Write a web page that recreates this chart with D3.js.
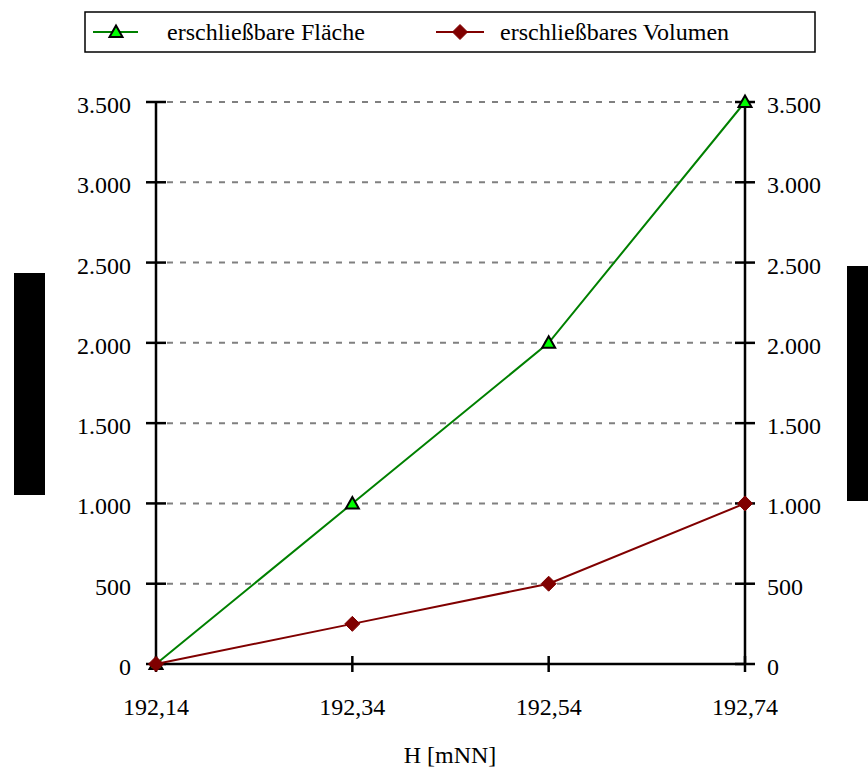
<!DOCTYPE html>
<html>
<head>
<meta charset="utf-8">
<script src="https://cdn.jsdelivr.net/npm/d3@7"></script>
<style>
  html, body { margin: 0; padding: 0; background: #fff; }
</style>
</head>
<body>
<svg id="chart" width="868" height="769"></svg>
<script>
// Data
const categories = ["192,14", "192,34", "192,54", "192,74"];
const flaeche = [0, 1000, 2000, 3500];
const volumen = [0, 250, 500, 1000];
const yTicks = [0, 500, 1000, 1500, 2000, 2500, 3000, 3500];
const seriesNames = ["erschließbare Fläche", "erschließbares Volumen"];
const xTitle = "H [mNN]";

(function () {
const FS = 24;
const svg = d3.select("#chart");
const mLeft = 156, mRight = 745, mTop = 102, mBottom = 664;

const x = d3.scalePoint().domain(categories).range([mLeft, mRight]).padding(0);
const y = d3.scaleLinear().domain([0, 3500]).range([mBottom, mTop]);

const fmt = v => d3.format(",")(v).replace(/,/g, ".");
const styleText = sel => sel.style("font-family", '"Liberation Serif"')
  .attr("font-size", FS).attr("fill", "#000");

// Dashed gridlines
svg.append("g").selectAll("line").data(yTicks.filter(d => d > 0)).join("line")
  .attr("x1", mLeft + 11).attr("x2", mRight - 10)
  .attr("y1", d => y(d)).attr("y2", d => y(d))
  .attr("stroke", "#808080").attr("stroke-width", 2)
  .attr("stroke-dasharray", "6,7");

// Axis lines
const axisG = svg.append("g").attr("stroke", "#000").attr("stroke-width", 2.5);
axisG.append("line").attr("x1", mLeft).attr("x2", mLeft).attr("y1", mTop).attr("y2", mBottom);
axisG.append("line").attr("x1", mRight).attr("x2", mRight).attr("y1", mTop).attr("y2", mBottom);
axisG.append("line").attr("x1", mLeft).attr("x2", mRight).attr("y1", mBottom).attr("y2", mBottom);

// Y ticks crossing both vertical axes
[mLeft, mRight].forEach(ax => {
  axisG.append("g").selectAll("line").data(yTicks).join("line")
    .attr("x1", ax - 10).attr("x2", ax + 10)
    .attr("y1", d => y(d)).attr("y2", d => y(d));
});
// X ticks
axisG.append("g").selectAll("line").data(categories).join("line")
  .attr("x1", d => x(d)).attr("x2", d => x(d))
  .attr("y1", mBottom - 8).attr("y2", mBottom + 8);

// Y tick labels
svg.append("g").selectAll("text").data(yTicks).join("text")
  .attr("x", mLeft - 25).attr("y", d => y(d) + 11)
  .attr("text-anchor", "end").call(styleText)
  .text(fmt);
svg.append("g").selectAll("text").data(yTicks).join("text")
  .attr("x", mRight + 22).attr("y", d => y(d) + 11)
  .attr("text-anchor", "start").call(styleText)
  .text(fmt);

// X tick labels
svg.append("g").selectAll("text").data(categories).join("text")
  .attr("x", d => x(d)).attr("y", 715)
  .attr("text-anchor", "middle").call(styleText)
  .text(d => d);

// X title
svg.append("text").attr("x", 450).attr("y", 763)
  .attr("text-anchor", "middle").call(styleText)
  .text(xTitle);

// Axis title blocks
svg.append("rect").attr("x", 14).attr("y", 273).attr("width", 31).attr("height", 222).attr("fill", "#000");
svg.append("rect").attr("x", 847).attr("y", 266).attr("width", 21).attr("height", 235).attr("fill", "#000");

// Series lines
const line = d3.line().x((d, i) => x(categories[i])).y(d => y(d));
svg.append("path").datum(flaeche).attr("d", line)
  .attr("fill", "none").attr("stroke", "#008000").attr("stroke-width", 2);
svg.append("path").datum(volumen).attr("d", line)
  .attr("fill", "none").attr("stroke", "#800000").attr("stroke-width", 2);

// Markers
function triangle(g, cx, cy) {
  g.append("path").attr("d", "M0,-6.5L6.5,5L-6.5,5Z")
    .attr("transform", `translate(${cx},${cy})`)
    .attr("fill", "#00ff00").attr("stroke", "#000").attr("stroke-width", 2);
}
function diamond(g, cx, cy) {
  g.append("path").attr("d", "M0,-7.5L7.5,0L0,7.5L-7.5,0Z")
    .attr("transform", `translate(${cx},${cy})`)
    .attr("fill", "#800000").attr("stroke", "#800000").attr("stroke-width", 1);
}
const mg = svg.append("g");
flaeche.forEach((v, i) => triangle(mg, x(categories[i]), y(v)));
volumen.forEach((v, i) => diamond(mg, x(categories[i]), y(v)));

// Legend
const lg = svg.append("g");
lg.append("rect").attr("x", 85).attr("y", 12).attr("width", 730).attr("height", 40)
  .attr("fill", "#fff").attr("stroke", "#000").attr("stroke-width", 1.5);
lg.append("line").attr("x1", 93).attr("x2", 138).attr("y1", 32).attr("y2", 32)
  .attr("stroke", "#008000").attr("stroke-width", 2);
triangle(lg, 116, 32);
lg.append("text").attr("x", 167).attr("y", 40).call(styleText).text(seriesNames[0]);
lg.append("line").attr("x1", 436).attr("x2", 484).attr("y1", 32).attr("y2", 32)
  .attr("stroke", "#800000").attr("stroke-width", 2);
diamond(lg, 460, 32);
lg.append("text").attr("x", 500).attr("y", 40).call(styleText).text(seriesNames[1]);
})();
</script>
</body>
</html>
